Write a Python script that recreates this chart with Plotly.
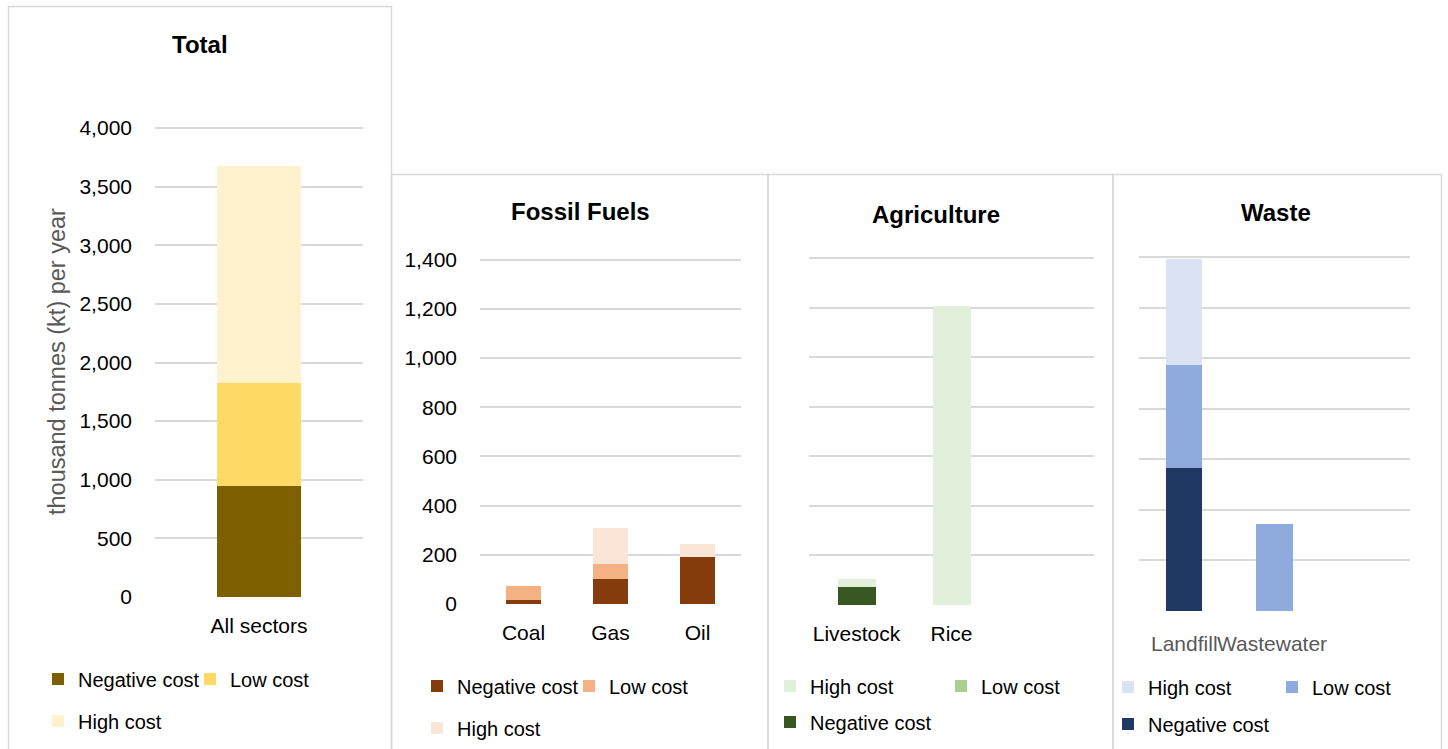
import plotly.graph_objects as go

W, H = 1448, 749

# ---------------- data ----------------
panel_titles = ["Total", "Fossil Fuels", "Agriculture", "Waste"]
series_names = ["Negative cost", "Low cost", "High cost"]
y_title = "thousand tonnes (kt) per year"

total_cats = ["All sectors"]
total_negative = [947]
total_low = [877]
total_high = [1852]

fossil_cats = ["Coal", "Gas", "Oil"]
fossil_negative = [15, 100, 192]
fossil_low = [60, 64, 0]
fossil_high = [0, 145, 53]

agri_cats = ["Livestock", "Rice"]
agri_negative = [74, 0]
agri_low = [0, 0]
agri_high = [29, 1205]

waste_cats = ["Landfill", "Wastewater"]
waste_negative = [566, 0]
waste_low = [407, 346]
waste_high = [420, 0]

# ---------------- styling ----------------
FONT = "Liberation Sans, Arial, sans-serif"
GRID = "#d9d9d9"
EXT = 1.004  # tiny headroom so the top gridline is drawn


def px(x):
    return x / W


def py(y):
    return 1 - y / H


panels = [
    dict(cats=total_cats, vals=[total_negative, total_low, total_high],
         colors=["#7F6000", "#FFD966", "#FFF2CC"],
         xdom=(155, 363), ydom=(597, 128), ymax=4000, dtick=500, ticks=True,
         title_pos=(200, 44),
         legend_pos={"Negative cost": (78, 679), "Low cost": (230, 679), "High cost": (78, 721)}),
    dict(cats=fossil_cats, vals=[fossil_negative, fossil_low, fossil_high],
         colors=["#843C0C", "#F4B183", "#FBE5D6"],
         xdom=(480, 741), ydom=(604, 259.5), ymax=1400, dtick=200, ticks=True,
         title_pos=(580, 211),
         legend_pos={"Negative cost": (457, 686), "Low cost": (609, 686), "High cost": (457, 728)}),
    dict(cats=agri_cats, vals=[agri_negative, agri_low, agri_high],
         colors=["#385723", "#A9D08E", "#E2EFDA"],
         xdom=(809, 1094), ydom=(605, 258), ymax=1400, dtick=200, ticks=False,
         title_pos=(936, 214),
         legend_pos={"High cost": (810, 686), "Low cost": (981, 686), "Negative cost": (810, 722)}),
    dict(cats=waste_cats, vals=[waste_negative, waste_low, waste_high],
         colors=["#203864", "#8FAADC", "#DAE3F3"],
         xdom=(1139, 1410), ydom=(611, 257), ymax=1400, dtick=200, ticks=False,
         title_pos=(1276, 212),
         legend_pos={"High cost": (1148, 687), "Low cost": (1312, 687), "Negative cost": (1148, 724)}),
]

fig = go.Figure()
layout = dict(
    width=W, height=H, autosize=False,
    margin=dict(l=0, r=0, t=0, b=0, pad=0, autoexpand=False),
    paper_bgcolor="white", plot_bgcolor="white",
    barmode="stack", bargap=0.6,
    font=dict(family=FONT, size=21, color="#000000"),
    shapes=[], annotations=[],
)

legend_idx = 0
for i, p in enumerate(panels):
    n = i + 1
    xa = "x" if n == 1 else f"x{n}"
    ya = "y" if n == 1 else f"y{n}"
    for name, vals, col in zip(series_names, p["vals"], p["colors"]):
        legend_idx += 1
        lname = "legend" if legend_idx == 1 else f"legend{legend_idx}"
        fig.add_trace(go.Bar(
            x=p["cats"], y=vals, name=name, xaxis=xa, yaxis=ya,
            marker=dict(color=col, line=dict(width=0)),
            legend=lname, showlegend=True,
        ))
        tx, ty = p["legend_pos"][name]
        layout[lname] = dict(
            x=px(tx - 40), y=py(ty), xanchor="left", yanchor="middle",
            orientation="h", bgcolor="rgba(0,0,0,0)", borderwidth=0,
            font=dict(family=FONT, size=20, color="#000000"),
            itemclick=False, itemdoubleclick=False,
        )

    xkey = "xaxis" if n == 1 else f"xaxis{n}"
    ykey = "yaxis" if n == 1 else f"yaxis{n}"
    x0, x1 = p["xdom"]
    yb, yt = p["ydom"]
    yt_ext = yb - (yb - yt) * EXT
    ncat = len(p["cats"])
    layout[xkey] = dict(
        domain=[px(x0), px(x1)], anchor=ya, type="category",
        range=[-0.5, 2.5] if n >= 3 else [-0.5, ncat - 0.5],
        showgrid=False, zeroline=False, showline=False,
        ticks="", ticklabelstandoff=14, automargin=False,
        showticklabels=(n != 4),
        tickfont=dict(family=FONT, size=21, color="#000000"),
    )
    layout[ykey] = dict(
        domain=[py(yb), py(yt_ext)], anchor=xa,
        range=[0, p["ymax"] * EXT], dtick=p["dtick"], tick0=0,
        showgrid=True, gridcolor=GRID, gridwidth=1.5,
        zeroline=False, showline=False, ticks="", automargin=False,
        showticklabels=p["ticks"], tickformat=",d",
        ticklabelstandoff=22,
        tickfont=dict(family=FONT, size=21, color="#000000"),
    )
    tx, ty = p["title_pos"]
    layout["annotations"].append(dict(
        text=f"<b>{panel_titles[i]}</b>", x=px(tx), y=py(ty),
        xref="paper", yref="paper", showarrow=False,
        xanchor="center", yanchor="middle",
        font=dict(family=FONT, size=24, color="#000000"),
    ))

layout["yaxis"]["title"] = dict(
    text=y_title, standoff=7,
    font=dict(family=FONT, size=23.5, color="#595959"),
)

# Waste category labels (rendered crowded together as in the original)
layout["annotations"].append(dict(
    text=waste_cats[0], x=waste_cats[0], xref="x4", y=py(643), yref="paper",
    xanchor="right", yanchor="middle", xshift=35, showarrow=False, borderpad=0,
    font=dict(family=FONT, size=21, color="#595959"),
))
layout["annotations"].append(dict(
    text=waste_cats[1], x=waste_cats[1], xref="x4", y=py(643), yref="paper",
    xanchor="left", yanchor="middle", xshift=-59, showarrow=False, borderpad=0,
    font=dict(family=FONT, size=21, color="#595959"),
))

# panel frames
frames = [(8.5, 6.5, 391.5), (391.5, 174.5, 768), (768, 174.5, 1113), (1113, 174.5, 1441.5)]
for fx0, fy0, fx1 in frames:
    layout["shapes"].append(dict(
        type="rect", xref="paper", yref="paper",
        x0=px(fx0), x1=px(fx1), y0=py(fy0), y1=py(760),
        line=dict(color=GRID, width=1.5), fillcolor="rgba(0,0,0,0)", layer="below",
    ))

fig.update_layout(**layout)
fig.write_html(
    "out.html",
    config={"displayModeBar": False},
    post_script="document.body.style.margin='0';document.body.style.overflow='hidden';",
)
